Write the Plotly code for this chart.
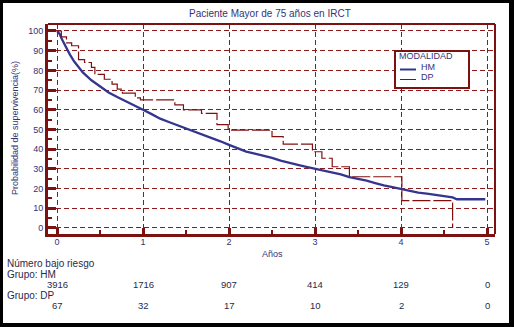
import plotly.graph_objects as go

# Survival curves (years, % surviving)
hm_years = [0, 0.03, 0.06, 0.1, 0.15, 0.2, 0.3, 0.4, 0.5, 0.6, 0.7, 0.8, 0.9, 1.0,
            1.1, 1.2, 1.3, 1.4, 1.5, 1.6, 1.7, 1.8, 1.9, 2.0, 2.1, 2.2, 2.3, 2.4,
            2.5, 2.6, 2.7, 2.8, 2.9, 3.0, 3.1, 3.2, 3.3, 3.4, 3.5, 3.6, 3.7, 3.8,
            3.9, 4.0, 4.1, 4.2, 4.3, 4.4, 4.5, 4.6, 4.65, 4.75, 4.98]
hm_surv = [100, 98.5, 95.5, 92, 88, 84.5, 79, 75, 71.8, 68.8, 66.5, 64.2, 62, 60,
           57.8, 55.5, 53.8, 52.2, 50.4, 48.9, 47.4, 45.9, 44, 42.2, 40.5, 38.8, 37.8, 36.8,
           35.6, 34.2, 33, 32, 31, 30, 29.2, 28.3, 27.2, 25.8, 25, 24, 22.8, 21.6,
           20.8, 19.8, 19, 18, 17.4, 16.8, 16.1, 15.5, 14.6, 14.6, 14.6]

dp_years = [0, 0.05, 0.11, 0.17, 0.25, 0.32, 0.40, 0.44, 0.55, 0.64, 0.70, 0.76,
            0.91, 0.97, 1.37, 1.47, 1.68, 1.86, 1.99, 2.5, 2.63, 2.97, 3.08,
            3.2, 3.4, 4.01, 4.6, 4.6]
dp_surv = [100, 97, 94, 92.5, 85.5, 84, 81.5, 78, 75.5, 73, 70.5, 68.5,
           66, 65, 62.5, 60, 58.2, 52.5, 49.7, 46.4, 42.6, 38.7, 35.4,
           31.1, 26, 13.9, 13.9, 0]

# Number at risk table
risk_years = [0, 1, 2, 3, 4, 5]
risk_hm = ["3916", "1716", "907", "414", "129", "0"]
risk_dp = ["67", "32", "17", "10", "2", "0"]

W, H = 514, 327
L, R, T, B = 48, 19, 24, 93
PW, PH = W - L - R, H - T - B

MAROON = "#7B1111"
GRID = "#8B1A1A"
NAVY = "#35358F"
TXT = "#333377"
TABLE = "#2a2a4a"
FONT = "Liberation Sans, Arial, sans-serif"


def px(x):
    return (x - L) / PW


def py(y):
    return (H - B - y) / PH


fig = go.Figure()
fig.add_trace(go.Scatter(x=hm_years, y=hm_surv, mode="lines", name="HM",
                         line=dict(color=NAVY, width=2.3)))
fig.add_trace(go.Scatter(x=dp_years, y=dp_surv, mode="lines", name="DP",
                         line=dict(color="#801010", width=1.2, shape="hv",
                                   dash="18px,3px")))

axis_common = dict(
    showgrid=True, gridcolor=GRID, gridwidth=1, griddash="5px,3px",
    showline=True, linecolor=MAROON, linewidth=3, mirror=False,
    ticks="inside", tickcolor=MAROON, tickwidth=3,
    tickfont=dict(size=9, color=TXT, family=FONT), zeroline=False,
)

fig.update_xaxes(range=[-0.105, 5.093], tickvals=risk_years, ticklen=6,
                 ticklabelstandoff=-3,
                 minor=dict(ticks="inside", ticklen=4, tickwidth=1.5,
                            tickcolor=MAROON, dtick=0.5, showgrid=False),
                 **axis_common)
fig.update_yaxes(range=[-3.05, 103.55], tickvals=list(range(0, 101, 10)), ticklen=8,
                 minor=dict(ticks="inside", ticklen=4, tickwidth=1.5,
                            tickcolor=MAROON, dtick=5, showgrid=False),
                 **axis_common)

shapes = [
    # white page inside the black surround
    dict(type="rect", xref="paper", yref="paper", layer="below",
         x0=px(3), x1=px(509), y0=py(323), y1=py(3),
         fillcolor="white", line=dict(width=0)),
    # top and right frame edges
    dict(type="line", xref="paper", yref="paper", x0=0, x1=1, y0=1, y1=1,
         line=dict(color=MAROON, width=2)),
    dict(type="line", xref="paper", yref="paper", x0=1, x1=1, y0=0, y1=1,
         line=dict(color=MAROON, width=2)),
    # legend box
    dict(type="rect", xref="paper", yref="paper",
         x0=px(395), x1=px(469), y0=py(88), y1=py(51),
         fillcolor="white", line=dict(color=MAROON, width=2)),
    dict(type="line", xref="paper", yref="paper",
         x0=px(400), x1=px(416), y0=py(69.5), y1=py(69.5),
         line=dict(color=NAVY, width=2)),
    dict(type="line", xref="paper", yref="paper",
         x0=px(400), x1=px(416), y0=py(79.5), y1=py(79.5),
         line=dict(color="#801010", width=1)),
]

ann = []


def text(x, y, s, size=9, color=TXT, xanchor="left", xref="paper", angle=0):
    ann.append(dict(x=x, y=y, xref=xref, yref="paper", text=s, showarrow=False,
                    xanchor=xanchor, yanchor="middle", textangle=angle,
                    font=dict(size=size, color=color, family=FONT)))


text(px(270), py(14), "Paciente Mayor de 75 años en IRCT", size=10, xanchor="center")
text(px(15), py(128), "Probabilidad de supervivencia(%)", size=9, xanchor="center", angle=-90)
text(px(272), py(254), "Años", size=9, xanchor="center")
text(px(397), py(56), "MODALIDAD", size=9)
text(px(419), py(67), "HM", size=9)
text(px(419), py(77), "DP", size=9)

text(px(5), py(263), "Número bajo riesgo", size=10, color=TABLE)
text(px(5), py(274), "Grupo: HM", size=10, color=TABLE)
text(px(5), py(295), "Grupo: DP", size=10, color=TABLE)
for yr, n in zip(risk_years, risk_hm):
    text(yr, py(284), n, size=9.5, color=TABLE, xanchor="center", xref="x")
for yr, n in zip(risk_years, risk_dp):
    text(yr, py(305), n, size=9.5, color=TABLE, xanchor="center", xref="x")

fig.update_layout(
    width=W, height=H, margin=dict(l=L, r=R, t=T, b=B, pad=0),
    paper_bgcolor="black", plot_bgcolor="white", showlegend=False,
    shapes=shapes, annotations=ann,
)

fig.write_html("out.html")
